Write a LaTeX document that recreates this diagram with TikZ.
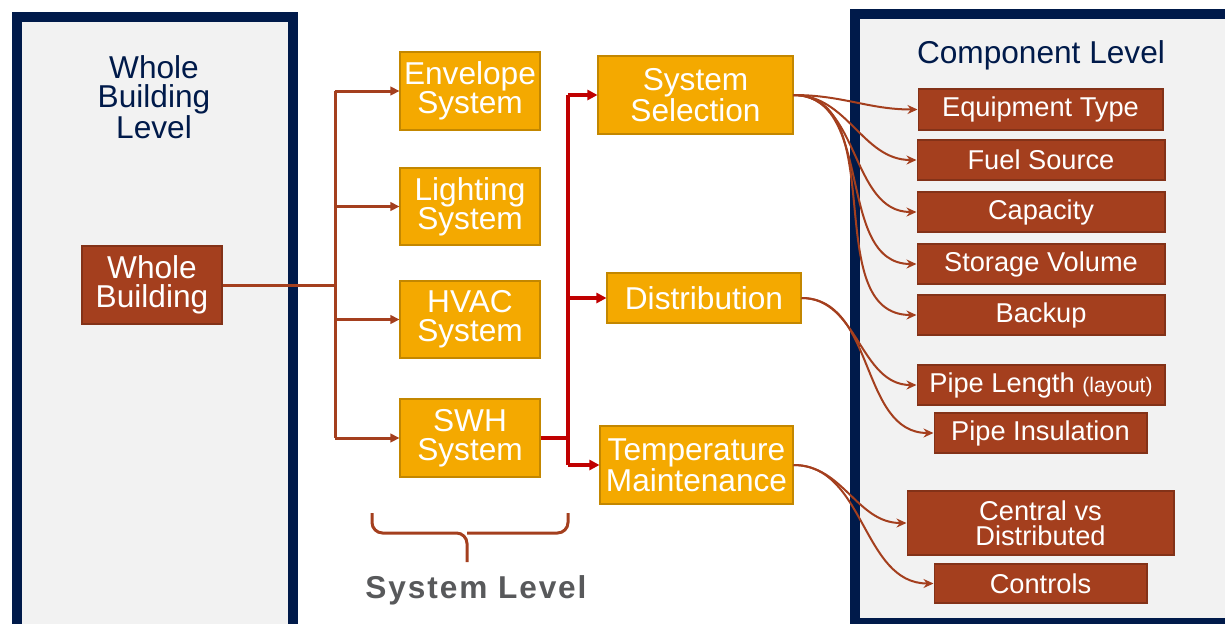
\documentclass[tikz,border=0pt]{standalone}
\usepackage{fontspec}
\setmainfont{Liberation Sans}
\newfontfamily\spacedfont[LetterSpace=6]{Liberation Sans}
\usetikzlibrary{arrows.meta}
\definecolor{navy}{HTML}{001A4A}
\definecolor{panelgray}{HTML}{F2F2F2}
\definecolor{gold}{HTML}{F4A900}
\definecolor{rust}{HTML}{A43F1E}
\definecolor{wire}{HTML}{C00000}
\definecolor{slate}{HTML}{58595B}
\tikzset{
  panel/.style={draw=navy,fill=panelgray,line width=2mm},
  sysbox/.style={draw=gold!80!black,fill=gold,text=white,line width=0.6pt,align=center,inner sep=0pt,font=\fontsize{18}{16.5}\selectfont},
  compbox/.style={draw=rust!80!black,fill=rust,text=white,line width=0.6pt,align=center,inner sep=0pt,font=\fontsize{15.5}{14.5}\selectfont},
  wholebox/.style={compbox,font=\fontsize{18}{16.5}\selectfont},
  title/.style={text=navy,align=center,font=\fontsize{18}{16.5}\selectfont},
  trunk/.style={draw=rust,line width=0.6mm},
  feed/.style={trunk,-{Triangle[length=1.8mm,width=1.7mm]}},
  redtrunk/.style={draw=wire,line width=0.8mm},
  redfeed/.style={redtrunk,-{Triangle[length=2mm,width=2mm]}},
  link/.style={draw=rust,line width=0.4mm,-{Stealth[length=2mm,width=1.8mm]},out=0,in=180},
}
\begin{document}
\begin{tikzpicture}[x=0.02cm,y=-0.02cm]
        \useasboundingbox (0,0) rectangle (1225,623);
        \clip (0,0) rectangle (1225,623);
        \draw[panel] (17,17) rectangle (293,660);
        \draw[panel] (854.5,13.5) rectangle (1240,623);

{\node[title] (wbtitle) at (154,97) {Whole\\Building\\Level};}
{\node[title] (cltitle) at (1041,55) {Component Level};}

{\node[wholebox,minimum width=2.8cm,minimum height=1.56cm] (wb) at (152,285) {Whole\\Building};}

{\node[sysbox,minimum width=2.8cm,minimum height=1.56cm] (env) at (470,91) {Envelope\\System};}
{\node[sysbox,minimum width=2.8cm,minimum height=1.54cm] (light) at (470,206.5) {Lighting\\System};}
{\node[sysbox,minimum width=2.8cm,minimum height=1.54cm] (hvac) at (470,319.5) {HVAC\\System};}
{\node[sysbox,minimum width=2.8cm,minimum height=1.56cm] (swh) at (470,438) {SWH\\System};}

{\node[sysbox,minimum width=3.9cm,minimum height=1.56cm] (sel) at (695.5,95) {System\\Selection};}
{\node[sysbox,minimum width=3.88cm,minimum height=1.0cm] (dist) at (704,298) {Distribution};}
{\node[sysbox,minimum width=3.86cm,minimum height=1.56cm] (temp) at (696.5,465) {Temperature\\Maintenance};}

{\node[compbox,minimum width=4.9cm,minimum height=0.82cm] (equip) at (1040.5,109.5) {Equipment Type};}
{\node[compbox,minimum width=4.96cm,minimum height=0.8cm] (fuel) at (1041,160) {Fuel Source};}
{\node[compbox,minimum width=4.96cm,minimum height=0.8cm] (cap) at (1041,212) {Capacity};}
{\node[compbox,minimum width=4.96cm,minimum height=0.8cm] (stor) at (1041,264) {Storage Volume};}
{\node[compbox,minimum width=4.96cm,minimum height=0.8cm] (back) at (1041,315) {Backup};}
{\node[compbox,minimum width=4.96cm,minimum height=0.8cm] (plen) at (1041,385) {Pipe Length {\fontsize{12}{12}\selectfont(layout)}};}
{\node[compbox,minimum width=4.26cm,minimum height=0.8cm] (pins) at (1040.5,433) {Pipe Insulation};}
{\node[compbox,minimum width=5.34cm,minimum height=1.28cm] (cent) at (1040.5,523) {Central vs\\Distributed};}
{\node[compbox,minimum width=4.26cm,minimum height=0.78cm] (ctrl) at (1040.5,583.5) {Controls};}

        % whole building to systems
        \coordinate (busx) at (335,0);
        \draw[trunk] (wb.east) -- (busx|-wb.east);
        \draw[trunk] (busx|-env.west) -- (busx|-swh.west);
        \foreach \n in {env,light,hvac,swh} {\draw[feed] (busx|-\n.west) -- (\n.west);}

        % swh to subsystems
        \coordinate (redx) at (568,0);
        \draw[redtrunk] (swh.east) -- (redx|-swh.east);
        \draw[redtrunk] (redx|-sel.west) -- (redx|-temp.west);
        \foreach \n in {sel,dist,temp} {\draw[redfeed] (redx|-\n.west) -- (\n.west);}

        % subsystems to components
        \foreach \n in {equip,fuel,cap,stor,back} {\draw[link] (sel.east) to (\n.west);}
        \foreach \n in {plen,pins} {\draw[link] (dist.east) to (\n.west);}
        \foreach \n in {cent,ctrl} {\draw[link] (temp.east) to (\n.west);}

        % system level bracket
        \draw[trunk,rounded corners=6pt] (372,513) |- (467,533) -- (467,562);
        \draw[trunk,rounded corners=6pt] (568,513) |- (467,533);
{\node[text=slate,font=\fontsize{18}{20}\spacedfont\bfseries] (syslevel) at (476,590) {System Level};}

\end{tikzpicture}
\end{document}
